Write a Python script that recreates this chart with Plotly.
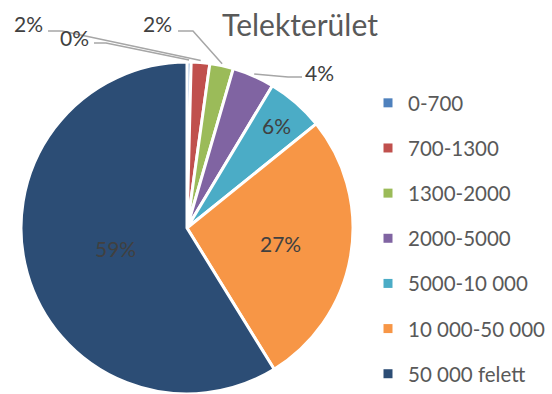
import math
import plotly.graph_objects as go

# Telekterület megoszlása (m² kategóriák), százalékban
categories = ["0-700", "700-1300", "1300-2000", "2000-5000",
              "5000-10 000", "10 000-50 000", "50 000 felett"]
shares = [0.4, 1.8, 2.3, 4.1, 5.6, 27.0, 58.8]
colors = ["#4F81BD", "#C0504D", "#9BBB59", "#8064A2",
          "#4BACC6", "#F79646", "#2C4D75"]

W, H = 552, 394
FONT = "Lato"
TXT = "#404040"

# pie geometry in pixels (paper margins are zero)
CX, CY, R = 187, 228, 166
dom_x = [(CX - R) / W, (CX + R) / W]
dom_y = [0, 2 * R / H]


def px(x, y):
    return x / W, 1 - y / H


def slice_point(i, radius):
    total = sum(shares)
    before = sum(shares[:i])
    ang = (before + shares[i] / 2) / total * 2 * math.pi
    return CX + radius * math.sin(ang), CY - radius * math.cos(ang)


fig = go.Figure()
fig.add_trace(go.Pie(
    labels=categories, values=shares, sort=False, direction="clockwise",
    rotation=0, marker=dict(colors=colors, line=dict(color="white", width=3)),
    textinfo="none", showlegend=False, domain=dict(x=dom_x, y=dom_y),
    hoverinfo="label+percent",
))

# legend entries
for lab, col in zip(categories, colors):
    fig.add_trace(go.Scatter(
        x=[None], y=[None], mode="markers", name=lab, legendgroup=lab,
        marker=dict(symbol="square", size=9, color=col),
    ))

annotations = []
shapes = []


def pct(v):
    return f"{round(v)}%"


# labels placed inside the larger slices
inside = {4: 0.82, 5: 0.57, 6: 0.45}
for i, frac in inside.items():
    x, y = slice_point(i, R * frac)
    ax, ay = px(x, y)
    annotations.append(dict(
        x=ax, y=ay, xref="paper", yref="paper", text=pct(shares[i]),
        showarrow=False, font=dict(family=FONT, size=21, color=TXT),
        xanchor="center", yanchor="middle"))

# labels outside with leader lines: (slice, text x, text y, line start x, elbow x, line y)
outside = [
    (1, 28, 24, 48, 62, 31),
    (0, 74, 38, 94, 106, 43),
    (2, 157, 24, 178, 193, 31),
    (3, 319, 72, 302, 288, 77),
]
for i, tx, ty, lx, ex, ly in outside:
    x, y = px(tx, ty)
    annotations.append(dict(
        x=x, y=y, xref="paper", yref="paper", text=pct(shares[i]),
        showarrow=False, font=dict(family=FONT, size=21, color=TXT),
        xanchor="center", yanchor="middle"))
    qx, qy = slice_point(i, R + 2)
    p = [px(lx, ly), px(ex, ly), px(qx, qy)]
    path = "M {:.4f},{:.4f} L {:.4f},{:.4f} L {:.4f},{:.4f}".format(
        p[0][0], p[0][1], p[1][0], p[1][1], p[2][0], p[2][1])
    shapes.append(dict(type="path", path=path, xref="paper", yref="paper",
                       line=dict(color="#A6A6A6", width=1.5)))

fig.update_layout(
    width=W, height=H, margin=dict(l=0, r=0, t=0, b=0),
    paper_bgcolor="white", plot_bgcolor="white",
    title=dict(text="Telekterület", x=300 / W, xanchor="center",
               y=1 - 25 / H, yanchor="middle",
               font=dict(family=FONT, size=30, color="#595959")),
    xaxis=dict(visible=False), yaxis=dict(visible=False),
    legend=dict(x=368 / W, xanchor="left", y=0, yanchor="bottom",
                font=dict(family=FONT, size=20.5, color="#595959"),
                tracegroupgap=15.5, bgcolor="rgba(0,0,0,0)"),
    annotations=annotations, shapes=shapes,
)

fig.write_html("out.html")
